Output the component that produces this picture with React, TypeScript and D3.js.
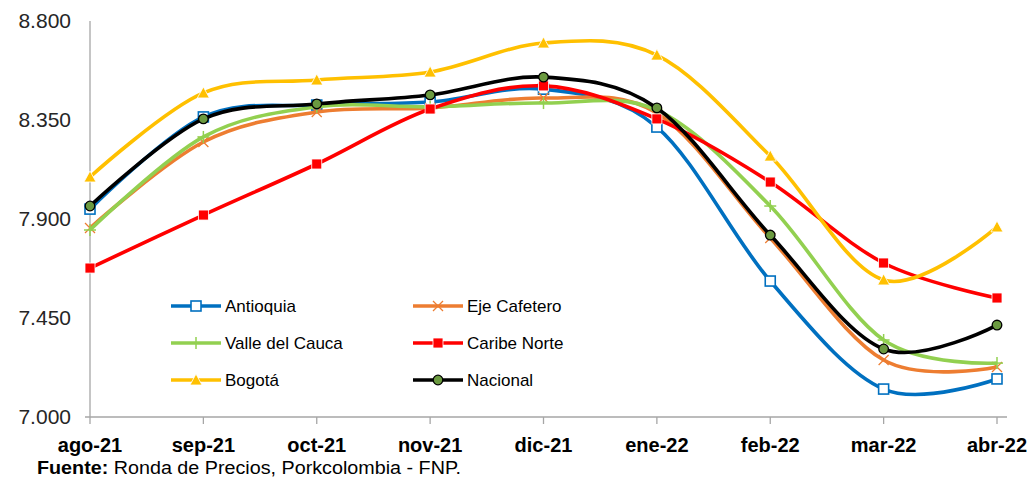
import React from "react";
import * as d3 from "d3";

const categories = ["ago-21", "sep-21", "oct-21", "nov-21", "dic-21", "ene-22", "feb-22", "mar-22", "abr-22"];
const yTicks = [7.0, 7.45, 7.9, 8.35, 8.8];

const antioquia = [7.945, 8.364, 8.418, 8.432, 8.49, 8.318, 7.618, 7.127, 7.173];
const ejeCafetero = [7.859, 8.25, 8.386, 8.405, 8.45, 8.382, 7.814, 7.259, 7.227];
const valleDelCauca = [7.85, 8.273, 8.41, 8.41, 8.427, 8.395, 7.959, 7.35, 7.245];
const caribeNorte = [7.677, 7.918, 8.15, 8.4, 8.505, 8.355, 8.068, 7.7, 7.541];
const bogota = [8.091, 8.473, 8.532, 8.568, 8.7, 8.645, 8.186, 7.623, 7.864];
const nacional = [7.959, 8.355, 8.423, 8.464, 8.545, 8.405, 7.827, 7.309, 7.418];

type Marker = "square" | "x" | "plus" | "filledSquare" | "triangle" | "circle";
const series: { name: string; values: number[]; color: string; marker: Marker }[] = [
  { name: "Antioquia", values: antioquia, color: "#0070C0", marker: "square" },
  { name: "Eje Cafetero", values: ejeCafetero, color: "#ED7D31", marker: "x" },
  { name: "Valle del Cauca", values: valleDelCauca, color: "#92D050", marker: "plus" },
  { name: "Caribe Norte", values: caribeNorte, color: "#FF0000", marker: "filledSquare" },
  { name: "Bogotá", values: bogota, color: "#FFC000", marker: "triangle" },
  { name: "Nacional", values: nacional, color: "#000000", marker: "circle" },
];

const FONT = "'Liberation Sans', Arial, sans-serif";

function MarkerShape({ type, x, y, color }: { type: Marker; x: number; y: number; color: string }) {
  switch (type) {
    case "square":
      return <rect x={x - 5} y={y - 5} width={10} height={10} fill="#fff" stroke={color} strokeWidth={1.6} />;
    case "filledSquare":
      return <rect x={x - 5} y={y - 5} width={10} height={10} fill={color} stroke="#fff" strokeWidth={0.8} />;
    case "x":
      return (
        <g stroke={color} strokeWidth={1.3}>
          <line x1={x - 5} y1={y - 5} x2={x + 5} y2={y + 5} />
          <line x1={x - 5} y1={y + 5} x2={x + 5} y2={y - 5} />
        </g>
      );
    case "plus":
      return (
        <g stroke={color} strokeWidth={1.5}>
          <line x1={x - 6} y1={y} x2={x + 6} y2={y} />
          <line x1={x} y1={y - 6} x2={x} y2={y + 6} />
        </g>
      );
    case "triangle":
      return <path d={`M${x},${y - 6}L${x + 6},${y + 5}L${x - 6},${y + 5}Z`} fill={color} stroke="#fff" strokeWidth={0.8} />;
    case "circle":
      return <circle cx={x} cy={y} r={4.8} fill="#6B9A40" stroke="#000" strokeWidth={1.3} />;
  }
}

export default function App() {
  const width = 1034;
  const height = 479;
  const left = 90;
  const right = 997;
  const top = 21;
  const bottom = 417;

  const x = d3.scalePoint<string>().domain(categories).range([left, right]);
  const y = d3.scaleLinear().domain([7.0, 8.8]).range([bottom, top]);

  const line = d3
    .line<number>()
    .x((_, i) => x(categories[i]) as number)
    .y((d) => y(d))
    .curve(d3.curveCatmullRom.alpha(0));

  const fmt = (v: number) => v.toFixed(3);

  const legendItems = [
    { s: series[0], lx: 171, ly: 306 },
    { s: series[1], lx: 413, ly: 306 },
    { s: series[2], lx: 171, ly: 343 },
    { s: series[3], lx: 413, ly: 343 },
    { s: series[4], lx: 171, ly: 380 },
    { s: series[5], lx: 413, ly: 380 },
  ];

  return (
    <svg width={width} height={height} style={{ position: "absolute", left: 0, top: 0, background: "#fff" }} fontFamily={FONT}>
      <rect x={0} y={0} width={width} height={height} fill="#fff" />
      {/* axes */}
      <line x1={left} y1={top} x2={left} y2={bottom} stroke="#A6A6A6" strokeWidth={1.3} />
      <line x1={left - 5} y1={bottom} x2={right + 10} y2={bottom} stroke="#A6A6A6" strokeWidth={1.3} />
      {categories.map((c) => (
        <line key={c} x1={x(c)} y1={bottom} x2={x(c)} y2={bottom + 7} stroke="#A6A6A6" strokeWidth={1.3} />
      ))}
      {/* y tick labels */}
      {yTicks.map((t) => (
        <text key={t} x={71} y={y(t)} dy="0.35em" textAnchor="end" fontSize={21} fill="#262626">
          {fmt(t)}
        </text>
      ))}
      {/* x labels */}
      {categories.map((c) => (
        <text key={c} x={x(c)} y={452} textAnchor="middle" fontSize={20} fontWeight="bold" fill="#000">
          {c}
        </text>
      ))}
      {/* lines */}
      {series.map((s) => (
        <g key={s.name}>
          <path d={line(s.values) || ""} fill="none" stroke={s.color} strokeWidth={3.6} strokeLinejoin="round" />
          {s.values.map((v, i) => (
            <MarkerShape key={i} type={s.marker} x={x(categories[i]) as number} y={y(v)} color={s.color} />
          ))}
        </g>
      ))}
      {/* legend */}
      {legendItems.map(({ s, lx, ly }) => (
        <g key={s.name}>
          <line x1={lx} y1={ly} x2={lx + 50} y2={ly} stroke={s.color} strokeWidth={3.6} />
          <MarkerShape type={s.marker} x={lx + 25} y={ly} color={s.color} />
          <text x={lx + 54} y={ly} dy="0.35em" fontSize={17} fill="#000">
            {s.name}
          </text>
        </g>
      ))}
      {/* source */}
      <text x={37} y={474} fontSize={17.5} fill="#000" textLength={424} lengthAdjust="spacingAndGlyphs">
        <tspan fontWeight="bold">Fuente:</tspan>
        <tspan> Ronda de Precios, Porkcolombia - FNP.</tspan>
      </text>
    </svg>
  );
}
